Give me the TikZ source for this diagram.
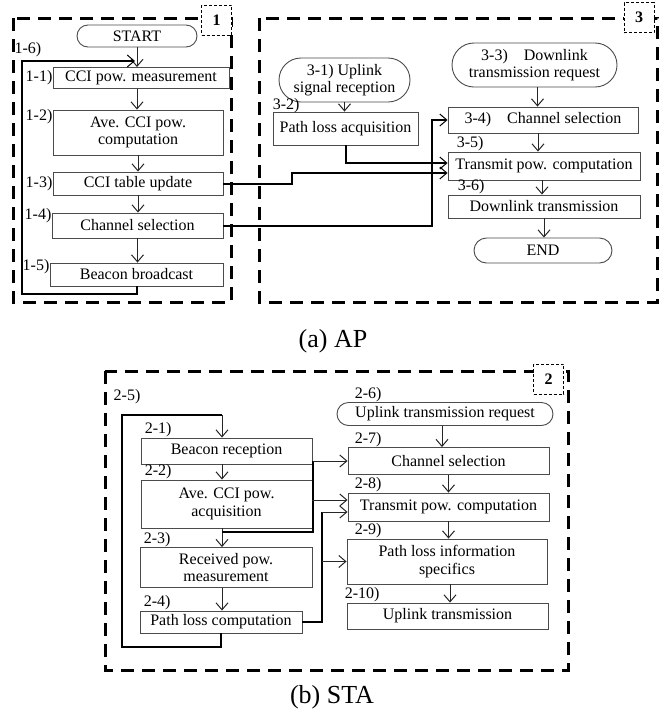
\documentclass[tikz,border=0pt]{standalone}
\usepackage{fontspec}
\setmainfont{Liberation Serif}
\usepackage{tikz}
\usetikzlibrary{arrows.meta,positioning,calc}
\usepackage{xcolor}
\definecolor{BoxGray}{RGB}{75,75,75}
\newcommand{\flowfont}{\fontsize{16}{17.5}\selectfont}

\begin{document}
\begin{tikzpicture}[x=1pt,y=-1pt,
  >={Straight Barb[length=7pt,width=12pt,line width=1pt]},
  n/.style={rectangle,draw=BoxGray,line width=0.9pt,inner sep=0pt,font=\flowfont,align=center},
  pill/.style={n,rounded corners=#1},
  lab/.style={inner sep=0pt,font=\flowfont},
  zone/.style={line width=3pt,dash pattern=on 13pt off 8pt},
  tagbox/.style={rectangle,draw,fill=white,line width=0.8pt,dash pattern=on 3pt off 2pt,inner sep=0pt,minimum width=30pt,minimum height=30pt,font=\flowfont\bfseries},
  bus/.style={line width=2pt},
  flow/.style={->,draw=black!85,line width=0.9pt},
  subcap/.style={font=\fontsize{26}{28}\selectfont}
]
  \useasboundingbox (0,0) rectangle (671,713);

  \draw[zone] (13,18) rectangle (231,302);
  \draw[zone] (259,18) rectangle (657,302);
  \draw[zone] (105,371) rectangle (568,670);
  \node[tagbox] (t1) at (216.5,20) {1};
  \node[tagbox] (t3) at (639,17.5) {3};
  \node[tagbox] (t2) at (548.5,379) {2};

  \node[pill=11pt,minimum width=120pt,minimum height=22pt] (start) at (137,36) {START};
  \node[n,minimum width=176pt,minimum height=21pt] (a11) at (141,78) {CCI pow. measurement};
  \node[n,minimum width=170pt,minimum height=45pt] (a12) at (138,132.5) {Ave. CCI pow.\\computation};
  \node[n,minimum width=170pt,minimum height=23pt] (a13) at (138,183.5) {CCI table update};
  \node[n,minimum width=171pt,minimum height=25pt] (a14) at (137.5,225.5) {Channel selection};
  \node[n,minimum width=173pt,minimum height=23pt] (a15) at (136.5,274.5) {Beacon broadcast};
  \node[lab,anchor=east] (l11) at (a11.west) {1-1)};
  \node[lab,anchor=north east] (l12) at (a12.north west) {1-2)};
  \node[lab,anchor=east] (l13) at (a13.west) {1-3)};
  \node[lab,anchor=north east,yshift=4pt] (l14) at (a14.north west) {1-4)};
  \node[lab,anchor=north east,yshift=3pt] (l15) at (a15.north west) {1-5)};
  \node[lab] (l16) at (28,50) {1-6)};

  \node[pill=22pt,minimum width=131pt,minimum height=44pt] (u31) at (344.5,80) {3-1) Uplink\\signal reception};
  \node[n,minimum width=145pt,minimum height=33pt] (p32) at (345.5,128.5) {Path loss acquisition};
  \node[lab,anchor=south west,yshift=-2pt] (l32) at (p32.north west) {3-2)};
  \node[pill=22pt,minimum width=165pt,minimum height=44pt] (d33) at (534.5,65) {3-3)\quad Downlink\\transmission request};
  \node[n,minimum width=190pt,minimum height=26pt] (c34) at (543,120) {3-4)\quad Channel selection};
  \node[n,minimum width=192pt,minimum height=28pt] (t35) at (544,166) {Transmit pow. computation};
  \node[lab,anchor=south west,xshift=9pt] (l35) at (t35.north west) {3-5)};
  \node[n,minimum width=192pt,minimum height=23pt] (d36) at (544,206.5) {Downlink transmission};
  \node[lab,anchor=south west,xshift=10pt] (l36) at (d36.north west) {3-6)};
  \node[pill=12.5pt,minimum width=138pt,minimum height=25pt] (fin) at (543,250.5) {END};

  \node[subcap] (capa) at (333,341) {(a) AP};

  \node[lab] (l25) at (127,397) {2-5)};
  \node[n,minimum width=171pt,minimum height=26pt] (b21) at (226.5,451) {Beacon reception};
  \node[lab,anchor=south west,xshift=4pt] (l21) at (b21.north west) {2-1)};
  \node[n,minimum width=171pt,minimum height=48pt] (b22) at (226.5,504) {Ave. CCI pow.\\acquisition};
  \node[lab,anchor=south west,xshift=4pt] (l22) at (b22.north west) {2-2)};
  \node[n,minimum width=172pt,minimum height=40pt] (b23) at (226,567.5) {Received pow.\\measurement};
  \node[lab,anchor=south west,xshift=4pt] (l23) at (b23.north west) {2-3)};
  \node[n,minimum width=162pt,minimum height=22pt] (b24) at (221,622) {Path loss computation};
  \node[lab,anchor=south west,xshift=4pt] (l24) at (b24.north west) {2-4)};

  \node[pill=11.5pt,minimum width=216pt,minimum height=23pt] (u26) at (445,414) {Uplink transmission request};
  \node[lab,anchor=south west,xshift=18pt] (l26) at (u26.north west) {2-6)};
  \node[n,minimum width=201pt,minimum height=27pt] (b27) at (448.5,461) {Channel selection};
  \node[lab,anchor=south west,xshift=7pt] (l27) at (b27.north west) {2-7)};
  \node[n,minimum width=201pt,minimum height=28pt] (b28) at (448.5,507) {Transmit pow. computation};
  \node[lab,anchor=south west,xshift=7pt] (l28) at (b28.north west) {2-8)};
  \node[n,minimum width=200pt,minimum height=45pt] (b29) at (447,561.5) {Path loss information\\specifics};
  \node[lab,anchor=south west,xshift=8pt] (l29) at (b29.north west) {2-9)};
  \node[n,minimum width=201pt,minimum height=26pt] (b210) at (447.5,616) {Uplink transmission};
  \node[lab,anchor=south west,xshift=-2pt] (l210) at (b210.north west) {2-10)};

  \node[subcap] (capb) at (332,697) {(b) STA};

  \draw[flow] (start.south) -- (start.south |- a11.north);
  \draw[flow] (a11.south -| start.south) -- (a12.north -| start.south);
  \draw[flow] (a12.south) -- (a12.south |- a13.north);
  \draw[flow] (a13.south) -- (a13.south |- a14.north);
  \draw[flow] (a14.south) -- (a14.south |- a15.north);
  \coordinate (r16) at (135,61);
  \draw[bus,->] (a15.south) -- ++(0,8) -| (22,61) -- (r16);

  \draw[flow] (u31.south) -- (u31.south |- p32.north);
  \draw[flow] ([xshift=3pt]d33.south) -- ([xshift=3pt]d33.south |- c34.north);
  \draw[flow] ([xshift=-5pt]c34.south) -- ([xshift=-5pt]c34.south |- t35.north);
  \draw[flow] ([xshift=-2pt]t35.south) -- ([xshift=-2pt]t35.south |- d36.north);
  \draw[flow] (d36.south) -- (d36.south |- fin.north);
  \draw[bus,->] (a13.east) -- ++(69,0) |- ([yshift=-7pt]t35.west);
  \coordinate (k34) at (432,120);
  \draw[bus,->] (a14.east) -| (k34) -- (c34.west);
  \draw[bus,->] (p32.south) |- ([yshift=3pt]t35.west);

  \coordinate (lp2) at (222,415);
  \draw[bus] (b24.south) -- ++(0,14) -| (122,415) -- (lp2);
  \draw[flow] (lp2) -- (lp2 |- b21.north);
  \draw[flow] (b21.south -| lp2) -- (b22.north -| lp2);
  \draw[flow] (b22.south -| lp2) -- (b23.north -| lp2);
  \draw[flow] (b23.south -| lp2) -- (b24.north -| lp2);
  \draw[flow] ([xshift=-3pt]u26.south) -- ([xshift=-3pt]u26.south |- b27.north);
  \draw[flow] (b27.south) -- (b27.south |- b28.north);
  \draw[flow] (b28.south) -- (b28.south |- b29.north);
  \draw[flow] ([xshift=3pt]b29.south) -- ([xshift=3pt]b29.south |- b210.north);

  \coordinate (ja) at (222,532);
  \coordinate (ka) at (313,532);
  \draw[bus] (ja) -- (ka) -- (ka |- b27.west);
  \draw[flow] (ka |- b27.west) -- (b27.west);
  \draw[flow] ([yshift=4pt]b22.east) -- ([yshift=4pt]b22.east -| b28.west);
  \coordinate (jb) at (322,512);
  \draw[bus] (b24.east) -| (jb);
  \draw[flow] (jb) -- (jb -| b28.west);
  \draw[flow] (jb |- b29.west) -- (b29.west);
\end{tikzpicture}
\end{document}
